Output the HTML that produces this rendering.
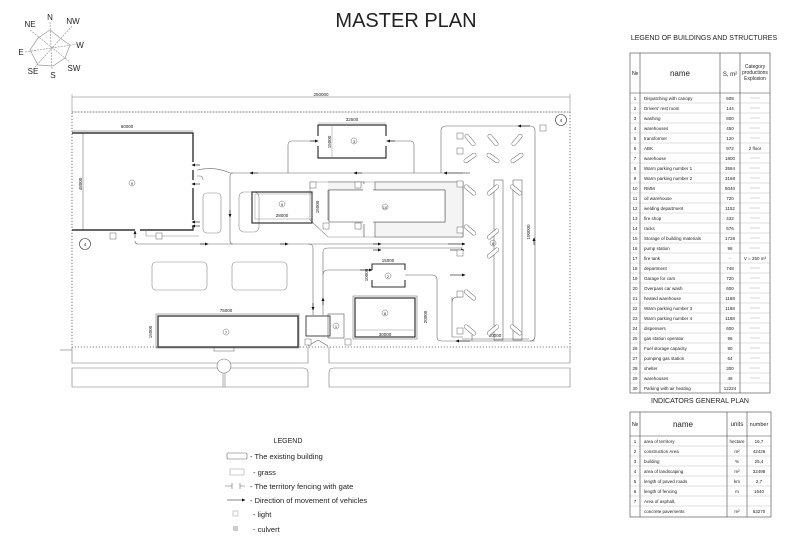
<!DOCTYPE html>
<html><head><meta charset="utf-8"><style>
html,body{margin:0;padding:0;background:#fff;}
svg{display:block;}
text{font-family:"Liberation Sans",sans-serif;fill:#222;}
</style></head><body>
<svg width="800" height="546" viewBox="0 0 800 546" xmlns="http://www.w3.org/2000/svg">
<defs>
<marker id="ar" markerWidth="6" markerHeight="6" refX="5" refY="3" orient="auto"><path d="M0,0.5 L6,3 L0,5.5Z" fill="#111"/></marker>
</defs>
<rect width="800" height="546" fill="#fff"/>
<!-- title -->
<text x="406" y="27" font-size="20" text-anchor="middle">MASTER PLAN</text>

<!-- compass -->
<g stroke="#999" stroke-width="0.7" fill="none" stroke-dasharray="2,1">
<line x1="50" y1="22" x2="52" y2="70"/>
<line x1="30" y1="30" x2="70" y2="62"/>
<line x1="72" y1="26" x2="35" y2="67"/>
<line x1="25" y1="52" x2="78" y2="44"/>
<polygon points="50,30 60,38 70,45 65,58 53,66 38,65 30,50 38,38" stroke-dasharray="none"/>
</g>
<g font-size="8" text-anchor="middle">
<text x="50" y="20">N</text><text x="73" y="24">NW</text><text x="30" y="27">NE</text>
<text x="80" y="48">W</text><text x="21" y="55">E</text><text x="33" y="74">SE</text>
<text x="53" y="78">S</text><text x="74" y="71">SW</text>
</g>

<!-- top dimension -->
<g stroke="#777" stroke-width="0.5" fill="none">
<line x1="72" y1="97" x2="570" y2="97"/>
<line x1="72" y1="94" x2="72" y2="112"/><line x1="570" y1="94" x2="570" y2="112"/>
</g>
<text x="321" y="96" font-size="4.5" text-anchor="middle">250000</text>

<!-- site boundary dotted -->
<rect x="72" y="112" width="498" height="235" fill="none" stroke="#555" stroke-width="0.8" stroke-dasharray="1.2,1.8"/>
<line x1="72" y1="112" x2="570" y2="112" stroke="#888" stroke-width="0.4"/>

<!-- roads below -->
<g stroke="#777" stroke-width="0.6" fill="none">
<path d="M72,347 L72,363 L308,363 L308,347"/>
<path d="M329,347 L329,363 L570,363 L570,347"/>
<path d="M72,368 L303,368 Q308,368 308,373 L308,387 L72,387Z"/>
<path d="M570,368 L334,368 Q329,368 329,373 L329,387 L570,387Z"/>
<circle cx="224" cy="366" r="7" fill="#fff"/>
<line x1="223" y1="373" x2="223" y2="387"/><line x1="225" y1="373" x2="225" y2="387"/>
<rect x="214" y="347" width="20" height="4"/>
<line x1="60" y1="350" x2="72" y2="350"/>
</g>

<!-- building 9 -->
<g stroke="#333" fill="none">
<path d="M72,133 L193,133 L193,162 M193,170 L193,180 M193,188 L193,220 M193,226 L193,230 L140,230 M135,230 L72,230Z" stroke-width="1.4"/>
<line x1="72" y1="131" x2="193" y2="131" stroke-width="0.4"/>
<line x1="83" y1="133" x2="83" y2="230" stroke-width="0.4"/>
</g>
<text x="127" y="128" font-size="4.5" text-anchor="middle">60000</text>
<text x="82" y="184" font-size="4.5" text-anchor="middle" transform="rotate(-90 82 184)">48000</text>
<circle cx="132" cy="183" r="3" fill="none" stroke="#444" stroke-width="0.4"/><text x="132" y="185" font-size="4" text-anchor="middle">9</text>

<!-- grass-ish / parking pads -->
<g stroke="#888" stroke-width="0.6" fill="none">
<rect x="152" y="262" width="55" height="28" rx="4"/>
<rect x="232" y="262" width="55" height="28" rx="4"/>
<rect x="239" y="192" width="20" height="40" rx="5"/>
<rect x="203" y="193" width="18" height="40" rx="4"/>
<path d="M310,182 L463,182 L463,237 L328,237 L310,220Z"/>
<path d="M146,230 L146,236 L199,236"/>
</g>

<!-- roads with arrows -->
<g stroke="#666" stroke-width="0.6" fill="none">
<path d="M230,173 L463,173" />
<path d="M233,173 Q230,173 230,176 L230,241 Q230,244 233,244"/>
<path d="M135,241 Q135,244 138,244 L463,244"/>
<path d="M308,244 Q313,244 313,248 L313,315"/>
<path d="M323,315 L323,252 Q323,248 328,248 L463,248"/>
<path d="M323,275 Q323,270 328,270 L372,270"/>
<path d="M405,275 L432,275 Q437,275 437,280 L437,337 Q437,341 442,341 L535,341"/>
<path d="M288,173 L288,145 Q288,141 292,141 L318,141"/>
<path d="M386,141 L410,141 Q414,141 414,145 L414,173"/>
<path d="M441,173 L441,131 Q441,126 446,126 L530,126 Q535,126 535,131 L535,336 Q535,341 530,341"/>
<path d="M197,170 Q215,166 230,173"/>
<path d="M197,176 L200,176 Q203,176 203,180"/>
</g>
<g stroke="#111" stroke-width="0.6">
<line x1="258" y1="173" x2="250" y2="173" marker-end="url(#ar)"/>
<line x1="362" y1="173" x2="354" y2="173" marker-end="url(#ar)"/>
<line x1="470" y1="173" x2="444" y2="173" marker-end="url(#ar)"/>
<line x1="200" y1="165" x2="192" y2="165" marker-end="url(#ar)"/>
<line x1="200" y1="184" x2="192" y2="184" marker-end="url(#ar)"/>
<line x1="200" y1="222" x2="192" y2="222" marker-end="url(#ar)"/>
<line x1="200" y1="226" x2="192" y2="226" marker-end="url(#ar)"/>
<line x1="230" y1="210" x2="230" y2="217" marker-end="url(#ar)"/>
<line x1="135" y1="238" x2="135" y2="231" marker-end="url(#ar)"/>
<line x1="200" y1="244" x2="208" y2="244" marker-end="url(#ar)"/>
<line x1="280" y1="244" x2="288" y2="244" marker-end="url(#ar)"/>
<line x1="373" y1="244" x2="381" y2="244" marker-end="url(#ar)"/>
<line x1="448" y1="244" x2="465" y2="244" marker-end="url(#ar)"/>
<line x1="373" y1="250" x2="381" y2="250" marker-end="url(#ar)"/>
<line x1="450" y1="250" x2="464" y2="250" marker-end="url(#ar)"/>
<line x1="313" y1="303" x2="313" y2="310" marker-end="url(#ar)"/>
<line x1="323" y1="305" x2="323" y2="298" marker-end="url(#ar)"/>
<line x1="360" y1="270" x2="372" y2="270" marker-end="url(#ar)"/>
<line x1="450" y1="275" x2="465" y2="275" marker-end="url(#ar)"/>
<line x1="470" y1="341" x2="456" y2="341" marker-end="url(#ar)"/>
<line x1="530" y1="126" x2="518" y2="126" marker-end="url(#ar)"/>
<line x1="534" y1="245" x2="534" y2="238" marker-end="url(#ar)"/>
<line x1="310" y1="141" x2="318" y2="141" marker-end="url(#ar)"/>
<line x1="395" y1="141" x2="387" y2="141" marker-end="url(#ar)"/>
</g>

<!-- building 3 -->
<g stroke="#333" stroke-width="1.2" fill="none">
<path d="M318,136 L318,125 L386,125 L386,136 M318,146 L318,158 L386,158 L386,146"/>
</g>
<line x1="318" y1="123" x2="386" y2="123" stroke="#777" stroke-width="0.4"/>
<line x1="332" y1="125" x2="332" y2="158" stroke="#777" stroke-width="0.4"/>
<text x="352" y="121" font-size="4.5" text-anchor="middle">32500</text>
<text x="331" y="142" font-size="4.5" text-anchor="middle" transform="rotate(-90 331 142)">15000</text>
<circle cx="354" cy="141" r="3" fill="none" stroke="#444" stroke-width="0.4"/><text x="354" y="143" font-size="4" text-anchor="middle">3</text>

<!-- building 5 -->
<rect x="252" y="192" width="60" height="31" fill="none" stroke="#333" stroke-width="1.2"/>
<rect x="255" y="194" width="57" height="25" fill="none" stroke="#777" stroke-width="0.4"/>
<circle cx="282" cy="204" r="3" fill="none" stroke="#444" stroke-width="0.4"/><text x="282" y="206" font-size="4" text-anchor="middle">5</text>
<text x="282" y="217" font-size="4.5" text-anchor="middle">28000</text>
<text x="319" y="207" font-size="4.5" text-anchor="middle" transform="rotate(-90 319 207)">15000</text>

<!-- building 10 -->
<g fill="#f4f4f4" stroke="#555" stroke-width="0.6">
<path d="M328,182 L364,182 L364,190 L328,190 M328,190 L328,220 L364,220 L364,237 M375,182 L463,182 L463,237 L375,237 L375,222 L445,222 L445,190 L375,190Z"/>
</g>
<rect x="329" y="190" width="116" height="32" fill="#fff" stroke="#555" stroke-width="0.6"/>
<rect x="363" y="184" width="10" height="40" fill="#fff"/>
<circle cx="385" cy="207" r="3" fill="none" stroke="#444" stroke-width="0.4"/><text x="385" y="209" font-size="4" text-anchor="middle">10</text>

<!-- building 2 -->
<g stroke="#333" stroke-width="1.1" fill="none">
<path d="M372,270 L372,264 L405,264 L405,270 M372,280 L372,287 L405,287 L405,280"/>
</g>
<text x="388" y="262" font-size="4.5" text-anchor="middle">15000</text>
<text x="368" y="275" font-size="4.5" text-anchor="middle" transform="rotate(-90 368 275)">10000</text>
<circle cx="388" cy="276" r="3" fill="none" stroke="#444" stroke-width="0.4"/><text x="388" y="278" font-size="4" text-anchor="middle">2</text>

<!-- building 8 -->
<rect x="353" y="296" width="64" height="43" fill="none" stroke="#777" stroke-width="0.6"/>
<rect x="355" y="298" width="60" height="39" fill="none" stroke="#333" stroke-width="1.2"/>
<line x1="355" y1="330" x2="415" y2="330" stroke="#777" stroke-width="0.4"/>
<circle cx="385" cy="313" r="3" fill="none" stroke="#444" stroke-width="0.4"/><text x="385" y="315" font-size="4" text-anchor="middle">8</text>
<text x="385" y="336" font-size="4.5" text-anchor="middle">30000</text>
<text x="427" y="317" font-size="4.5" text-anchor="middle" transform="rotate(-90 427 317)">20000</text>

<!-- building 7 -->
<rect x="156" y="314" width="143" height="34" fill="none" stroke="#777" stroke-width="0.6"/>
<rect x="158" y="316" width="140" height="31" fill="none" stroke="#333" stroke-width="1.3"/>
<circle cx="226" cy="332" r="3" fill="none" stroke="#444" stroke-width="0.4"/><text x="226" y="334" font-size="4" text-anchor="middle">7</text>
<text x="226" y="312" font-size="4.5" text-anchor="middle">75000</text>
<text x="152" y="332" font-size="4.5" text-anchor="middle" transform="rotate(-90 152 332)">15000</text>

<!-- building 1 -->
<rect x="306" y="316" width="24" height="20" fill="none" stroke="#333" stroke-width="0.9"/>
<rect x="328" y="314" width="16" height="24" fill="none" stroke="#555" stroke-width="0.6"/>
<circle cx="336" cy="326" r="3" fill="none" stroke="#444" stroke-width="0.4"/><text x="336" y="328" font-size="4" text-anchor="middle">1</text>
<path d="M308,346 L318,340 L328,346" fill="none" stroke="#666" stroke-width="0.6"/>

<!-- area 6 parking -->
<g stroke="#666" stroke-width="0.6" fill="none">
<path d="M452,297 L452,337 L463,337 M463,297 L458,297 Q452,297 452,303"/>
<line x1="472" y1="341" x2="472" y2="335" />
<rect x="494" y="180" width="9" height="160"/>
<rect x="513" y="180" width="9" height="160"/>
<line x1="462" y1="339" x2="529" y2="339"/>
</g>
<text x="495" y="337" font-size="4.5" text-anchor="middle">30000</text>
<text x="530" y="232" font-size="4.5" text-anchor="middle" transform="rotate(-90 530 232)">100000</text>
<circle cx="493" cy="243" r="3" fill="none" stroke="#444" stroke-width="0.4"/><text x="493" y="245" font-size="4" text-anchor="middle">6</text>
<g stroke="#666" stroke-width="0.5" fill="#fff">
<rect x="-7" y="-2" width="14" height="4" rx="2" transform="translate(470,140) rotate(50)"/>
<rect x="-7" y="-2" width="14" height="4" rx="2" transform="translate(470,158) rotate(-35)"/>
<rect x="-7" y="-2" width="14" height="4" rx="2" transform="translate(493,140) rotate(50)"/>
<rect x="-7" y="-2" width="14" height="4" rx="2" transform="translate(493,158) rotate(35)"/>
<rect x="-7" y="-2" width="14" height="4" rx="2" transform="translate(517,140) rotate(-50)"/>
<rect x="-7" y="-2" width="14" height="4" rx="2" transform="translate(517,158) rotate(-35)"/>
<rect x="-7" y="-2" width="14" height="4" rx="2" transform="translate(470,190) rotate(40)"/>
<rect x="-7" y="-2" width="14" height="4" rx="2" transform="translate(470,230) rotate(40)"/>
<rect x="-7" y="-2" width="14" height="4" rx="2" transform="translate(493,190) rotate(-40)"/>
<rect x="-7" y="-2" width="14" height="4" rx="2" transform="translate(516,190) rotate(40)"/>
<rect x="-7" y="-2" width="14" height="4" rx="2" transform="translate(493,234) rotate(-40)"/>
<rect x="-7" y="-2" width="14" height="4" rx="2" transform="translate(493,253) rotate(-40)"/>
<rect x="-7" y="-2" width="14" height="4" rx="2" transform="translate(470,295) rotate(40)"/>
<rect x="-7" y="-2" width="14" height="4" rx="2" transform="translate(470,330) rotate(40)"/>
<rect x="-7" y="-2" width="14" height="4" rx="2" transform="translate(493,330) rotate(-40)"/>
<rect x="-7" y="-2" width="14" height="4" rx="2" transform="translate(516,330) rotate(40)"/>
</g>

<!-- lights -->
<g fill="#fff" stroke="#666" stroke-width="0.5">
<rect x="457" y="133" width="6" height="6"/><rect x="457" y="148" width="6" height="6"/>
<rect x="457" y="181" width="6" height="6"/><rect x="457" y="227" width="6" height="6"/>
<rect x="457" y="250" width="6" height="6"/><rect x="457" y="291" width="6" height="6"/>
<rect x="457" y="328" width="6" height="6"/><rect x="540" y="125" width="6" height="6"/>
<rect x="310" y="182" width="6" height="6"/><rect x="355" y="182" width="6" height="6"/>
<rect x="323" y="223" width="6" height="6"/><rect x="355" y="223" width="6" height="6"/>
<rect x="110" y="233" width="6" height="6"/><rect x="156" y="233" width="6" height="6"/>
<rect x="305" y="339" width="6" height="6"/><rect x="345" y="339" width="6" height="6"/>
</g>

<!-- circles 4 -->
<circle cx="85" cy="244" r="5.5" fill="none" stroke="#333" stroke-width="0.6"/><text x="85" y="246" font-size="4.5" text-anchor="middle">4</text>
<circle cx="561" cy="120" r="5.5" fill="none" stroke="#333" stroke-width="0.6"/><text x="561" y="122" font-size="4.5" text-anchor="middle">4</text>

<!-- legend -->
<text x="288" y="443" font-size="7" text-anchor="middle">LEGEND</text>
<g stroke="#666" stroke-width="0.6" fill="none">
<rect x="227" y="453" width="20" height="6" rx="1"/>
<rect x="230" y="469" width="14" height="6" stroke="#aaa"/>
<path d="M225,486 L232,486 M232,483 L232,489 M240,483 L240,489 M240,486 L245,486"/>
<line x1="227" y1="500" x2="245" y2="500" stroke="#111" marker-end="url(#ar)"/>
<rect x="233" y="511" width="5" height="5" stroke="#aaa"/>
</g>
<rect x="233" y="526" width="5" height="5" fill="#ccc"/>
<g font-size="7.5">
<text x="250" y="459">- The existing building</text>
<text x="253" y="475">- grass</text>
<text x="250" y="489">- The territory fencing with gate</text>
<text x="250" y="503">- Direction of movement of vehicles</text>
<text x="253" y="517">- light</text>
<text x="253" y="532">- culvert</text>
</g>

<!-- buildings table -->
<text x="704" y="40" font-size="7" text-anchor="middle">LEGEND OF BUILDINGS AND STRUCTURES</text>
<g stroke="#444" stroke-width="0.6" fill="none">
<rect x="630" y="53" width="140" height="340"/>
<line x1="640" y1="53" x2="640" y2="393"/><line x1="720" y1="53" x2="720" y2="393"/><line x1="740" y1="53" x2="740" y2="393"/>
<line x1="630" y1="93" x2="770" y2="93"/>
</g>
<g stroke="#999" stroke-width="0.3">
<line x1="630" y1="103" x2="770" y2="103"/><line x1="630" y1="113" x2="770" y2="113"/><line x1="630" y1="123" x2="770" y2="123"/><line x1="630" y1="133" x2="770" y2="133"/><line x1="630" y1="143" x2="770" y2="143"/><line x1="630" y1="153" x2="770" y2="153"/><line x1="630" y1="163" x2="770" y2="163"/><line x1="630" y1="173" x2="770" y2="173"/><line x1="630" y1="183" x2="770" y2="183"/><line x1="630" y1="193" x2="770" y2="193"/><line x1="630" y1="203" x2="770" y2="203"/><line x1="630" y1="213" x2="770" y2="213"/><line x1="630" y1="223" x2="770" y2="223"/><line x1="630" y1="233" x2="770" y2="233"/><line x1="630" y1="243" x2="770" y2="243"/><line x1="630" y1="253" x2="770" y2="253"/><line x1="630" y1="263" x2="770" y2="263"/><line x1="630" y1="273" x2="770" y2="273"/><line x1="630" y1="283" x2="770" y2="283"/><line x1="630" y1="293" x2="770" y2="293"/><line x1="630" y1="303" x2="770" y2="303"/><line x1="630" y1="313" x2="770" y2="313"/><line x1="630" y1="323" x2="770" y2="323"/><line x1="630" y1="333" x2="770" y2="333"/><line x1="630" y1="343" x2="770" y2="343"/><line x1="630" y1="353" x2="770" y2="353"/><line x1="630" y1="363" x2="770" y2="363"/><line x1="630" y1="373" x2="770" y2="373"/><line x1="630" y1="383" x2="770" y2="383"/>
</g>
<text x="635" y="75" font-size="6" text-anchor="middle">№</text>
<text x="680" y="76" font-size="8" text-anchor="middle">name</text>
<text x="730" y="76" font-size="6" text-anchor="middle">S, m²</text>
<text x="755" y="68" font-size="5" text-anchor="middle">Category</text>
<text x="755" y="74" font-size="5" text-anchor="middle">productions</text>
<text x="755" y="80" font-size="5" text-anchor="middle">Explosion</text>
<g font-size="4.5">
<g text-anchor="middle">
<text x="635" y="100">1</text><text x="635" y="110">2</text><text x="635" y="120">3</text><text x="635" y="130">4</text><text x="635" y="140">5</text><text x="635" y="150">6</text><text x="635" y="160">7</text><text x="635" y="170">8</text><text x="635" y="180">9</text><text x="635" y="190">10</text><text x="635" y="200">11</text><text x="635" y="210">12</text><text x="635" y="220">13</text><text x="635" y="230">14</text><text x="635" y="240">15</text><text x="635" y="250">16</text><text x="635" y="260">17</text><text x="635" y="270">18</text><text x="635" y="280">19</text><text x="635" y="290">20</text><text x="635" y="300">21</text><text x="635" y="310">22</text><text x="635" y="320">23</text><text x="635" y="330">24</text><text x="635" y="340">25</text><text x="635" y="350">26</text><text x="635" y="360">27</text><text x="635" y="370">28</text><text x="635" y="380">29</text><text x="635" y="390">30</text>
<text x="730" y="100">608</text><text x="730" y="110">144</text><text x="730" y="120">800</text><text x="730" y="130">450</text><text x="730" y="140">120</text><text x="730" y="150">972</text><text x="730" y="160">1800</text><text x="730" y="170">3584</text><text x="730" y="180">3168</text><text x="730" y="190">5040</text><text x="730" y="200">720</text><text x="730" y="210">1152</text><text x="730" y="220">432</text><text x="730" y="230">576</text><text x="730" y="240">1728</text><text x="730" y="250">98</text><text x="730" y="260">-</text><text x="730" y="270">748</text><text x="730" y="280">720</text><text x="730" y="290">600</text><text x="730" y="300">1188</text><text x="730" y="310">1188</text><text x="730" y="320">1188</text><text x="730" y="330">600</text><text x="730" y="340">96</text><text x="730" y="350">90</text><text x="730" y="360">64</text><text x="730" y="370">300</text><text x="730" y="380">48</text><text x="730" y="390">12224</text>
<text x="755" y="150">2 floor</text><text x="755" y="260">V = 250 m³</text>
</g>
<g>
<text x="644" y="100">Dispatching with canopy</text><text x="644" y="110">Drivers' rest room</text><text x="644" y="120">washing</text><text x="644" y="130">warehouses</text><text x="644" y="140">transformer</text><text x="644" y="150">ABK</text><text x="644" y="160">warehouse</text><text x="644" y="170">Warm parking number 1</text><text x="644" y="180">Warm parking number 2</text><text x="644" y="190">RMM</text><text x="644" y="200">oil warehouse</text><text x="644" y="210">welding department</text><text x="644" y="220">fire shop</text><text x="644" y="230">racks</text><text x="644" y="240">Storage of building materials</text><text x="644" y="250">pump station</text><text x="644" y="260">fire tank</text><text x="644" y="270">department</text><text x="644" y="280">Garage for cars</text><text x="644" y="290">Overpass car wash</text><text x="644" y="300">heated warehouse</text><text x="644" y="310">Warm parking number 3</text><text x="644" y="320">Warm parking number 4</text><text x="644" y="330">dispensers</text><text x="644" y="340">gas station operator</text><text x="644" y="350">Fuel storage capacity</text><text x="644" y="360">pumping gas station</text><text x="644" y="370">shelter</text><text x="644" y="380">warehouses</text><text x="644" y="390">Parking with air heating</text>
</g>
</g>
<g stroke="#999" stroke-width="0.4">
<line x1="750" y1="98" x2="760" y2="98"/><line x1="750" y1="108" x2="760" y2="108"/><line x1="750" y1="118" x2="760" y2="118"/><line x1="750" y1="128" x2="760" y2="128"/><line x1="750" y1="138" x2="760" y2="138"/><line x1="750" y1="158" x2="760" y2="158"/><line x1="750" y1="168" x2="760" y2="168"/><line x1="750" y1="178" x2="760" y2="178"/><line x1="750" y1="188" x2="760" y2="188"/><line x1="750" y1="198" x2="760" y2="198"/><line x1="750" y1="208" x2="760" y2="208"/><line x1="750" y1="218" x2="760" y2="218"/><line x1="750" y1="228" x2="760" y2="228"/><line x1="750" y1="238" x2="760" y2="238"/><line x1="750" y1="248" x2="760" y2="248"/><line x1="750" y1="268" x2="760" y2="268"/><line x1="750" y1="278" x2="760" y2="278"/><line x1="750" y1="288" x2="760" y2="288"/><line x1="750" y1="298" x2="760" y2="298"/><line x1="750" y1="308" x2="760" y2="308"/><line x1="750" y1="318" x2="760" y2="318"/><line x1="750" y1="328" x2="760" y2="328"/><line x1="750" y1="338" x2="760" y2="338"/><line x1="750" y1="348" x2="760" y2="348"/><line x1="750" y1="358" x2="760" y2="358"/><line x1="750" y1="368" x2="760" y2="368"/><line x1="750" y1="378" x2="760" y2="378"/>
</g>

<!-- indicators table -->
<text x="700" y="403" font-size="7" text-anchor="middle">INDICATORS GENERAL PLAN</text>
<g stroke="#444" stroke-width="0.6" fill="none">
<rect x="630" y="412" width="141" height="105"/>
<line x1="640" y1="412" x2="640" y2="517"/><line x1="727" y1="412" x2="727" y2="517"/><line x1="747" y1="412" x2="747" y2="517"/>
<line x1="630" y1="436" x2="771" y2="436"/>
</g>
<g stroke="#999" stroke-width="0.3">
<line x1="630" y1="446" x2="771" y2="446"/><line x1="630" y1="456" x2="771" y2="456"/><line x1="630" y1="466" x2="771" y2="466"/><line x1="630" y1="476" x2="771" y2="476"/><line x1="630" y1="486" x2="771" y2="486"/><line x1="630" y1="496" x2="771" y2="496"/><line x1="630" y1="506" x2="771" y2="506"/>
</g>
<text x="635" y="426" font-size="6" text-anchor="middle">№</text>
<text x="683" y="427" font-size="8" text-anchor="middle">name</text>
<text x="737" y="426" font-size="6" text-anchor="middle">units</text>
<text x="759" y="426" font-size="5.5" text-anchor="middle">number</text>
<g font-size="4.5">
<g text-anchor="middle">
<text x="635" y="443">1</text><text x="635" y="453">2</text><text x="635" y="463">3</text><text x="635" y="473">4</text><text x="635" y="483">5</text><text x="635" y="493">6</text><text x="635" y="503">7</text>
<text x="737" y="443">hectare</text><text x="737" y="453">m²</text><text x="737" y="463">%</text><text x="737" y="473">m²</text><text x="737" y="483">km</text><text x="737" y="493">m</text><text x="737" y="513">m²</text>
<text x="759" y="443">16,7</text><text x="759" y="453">42426</text><text x="759" y="463">25,4</text><text x="759" y="473">32498</text><text x="759" y="483">2,7</text><text x="759" y="493">1640</text><text x="759" y="513">63270</text>
</g>
<text x="644" y="443">area of territory</text><text x="644" y="453">construction Area</text><text x="644" y="463">building</text><text x="644" y="473">area of landscaping</text><text x="644" y="483">length of paved roads</text><text x="644" y="493">length of fencing</text><text x="644" y="503">Area of asphalt,</text><text x="644" y="513">concrete pavements</text>
</g>
</svg>
</body></html>
